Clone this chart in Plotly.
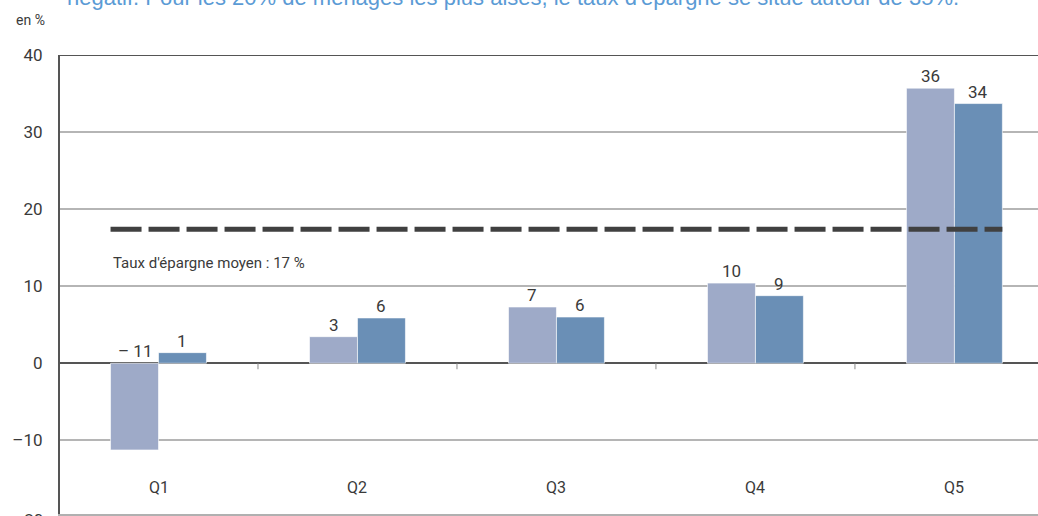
import plotly.graph_objects as go

# Taux d'épargne par quintile de niveau de vie (en %)
quintiles = ["Q1", "Q2", "Q3", "Q4", "Q5"]
serie_a = [-11.25, 3.45, 7.3, 10.4, 35.7]
serie_b = [1.38, 5.88, 6.0, 8.77, 33.7]
taux_moyen = 17.4
y_ticks = [-10, 0, 10, 20, 30, 40]
titre = "négatif. Pour les 20% de ménages les plus aisés, le taux d'épargne se situe autour de 35%."

NARROW = "Roboto, Liberation Sans Narrow, Arial Narrow, sans-serif"
TXT = "#3a3a3a"
C_A = "#9eaac8"
C_B = "#6a8fb6"
W = 0.241  # width of one bar, in category units

xs = list(range(len(quintiles)))

fig = go.Figure()
for vals, col, off in ((serie_a, C_A, -W), (serie_b, C_B, 0.0)):
    fig.add_trace(go.Bar(
        x=xs, y=vals, width=W, offset=off,
        marker=dict(color=col, line=dict(color="rgba(255,255,255,0.6)", width=1)),
        hoverinfo="skip", showlegend=False,
    ))
    for i, v in enumerate(vals):
        r = round(v)
        txt = f"– {abs(r)}" if r < 0 else f"{r}"
        fig.add_annotation(
            x=i + off + W / 2, y=max(v, 0), text=txt, showarrow=False,
            yanchor="bottom", yshift=0, xanchor="center",
            font=dict(family=NARROW, size=17, color=TXT),
        )

# average saving rate, dashed
fig.add_trace(go.Scatter(
    x=[xs[0] - W, xs[-1] + W], y=[taux_moyen, taux_moyen], mode="lines",
    line=dict(color="#404040", width=5, dash="31px,7px"),
    hoverinfo="skip", showlegend=False,
))
fig.add_annotation(
    x=xs[0] - W, y=taux_moyen, text=f"Taux d'épargne moyen : {round(taux_moyen)} %",
    showarrow=False, xanchor="left", yanchor="middle", yshift=-34,
    font=dict(family=NARROW, size=15, color=TXT),
)

# category labels inside the plot area
for i, q in enumerate(quintiles):
    fig.add_annotation(
        x=i, y=0.057, yref="paper", text=q, showarrow=False,
        xanchor="center", yanchor="middle",
        font=dict(family=NARROW, size=16, color=TXT),
    )

# small separators between categories on the zero line
shapes = []
for i in range(len(quintiles) - 1):
    shapes.append(dict(
        type="line", xref="x", yref="y", ysizemode="pixel", yanchor=0,
        x0=i + 0.5, x1=i + 0.5, y0=0, y1=-6,
        line=dict(color="#8a8a8a", width=1),
    ))
# top frame line
shapes.append(dict(type="line", xref="paper", yref="y", x0=0, x1=1, y0=40, y1=40,
                   line=dict(color="#555555", width=2)))
fig.update_layout(shapes=shapes)

fig.add_annotation(
    x=0.005, xref="paper", y=1.094, yref="paper", text=titre, showarrow=False,
    xanchor="left", yanchor="bottom",
    font=dict(family="Liberation Sans, Arial, sans-serif", size=22, color="#5b9bd5"),
)
fig.add_annotation(
    x=-0.047, xref="paper", y=1.077, yref="paper", text="en %", showarrow=False,
    xanchor="left", yanchor="middle",
    font=dict(family=NARROW, size=14, color=TXT),
)
fig.add_annotation(
    x=0, xref="paper", y=-0.013, yref="paper", text="–20", showarrow=False,
    xanchor="right", yanchor="middle", xshift=-15,
    font=dict(family=NARROW, size=17, color=TXT),
)

fig.update_layout(
    width=1038, height=516,
    margin=dict(l=60, r=0, t=55, b=2),
    paper_bgcolor="white", plot_bgcolor="white",
    barmode="overlay",
    xaxis=dict(
        range=[-0.495, 4.42], showgrid=False, zeroline=False,
        showticklabels=False, ticks="",
        showline=True, linecolor="#b0b0b0", linewidth=1.5,
    ),
    yaxis=dict(
        range=[-19.56, 40], tickvals=y_ticks,
        ticktext=[("–" + str(abs(t))) if t < 0 else str(t) for t in y_ticks],
        showgrid=True, gridcolor="#b5b5b5", gridwidth=1.5,
        zeroline=True, zerolinecolor="#555555", zerolinewidth=2,
        showline=True, linecolor="#555555", linewidth=2,
        ticks="outside", ticklen=12, tickcolor="rgba(0,0,0,0)",
        tickfont=dict(family=NARROW, size=17, color=TXT),
    ),
)

fig.write_html("out.html")
